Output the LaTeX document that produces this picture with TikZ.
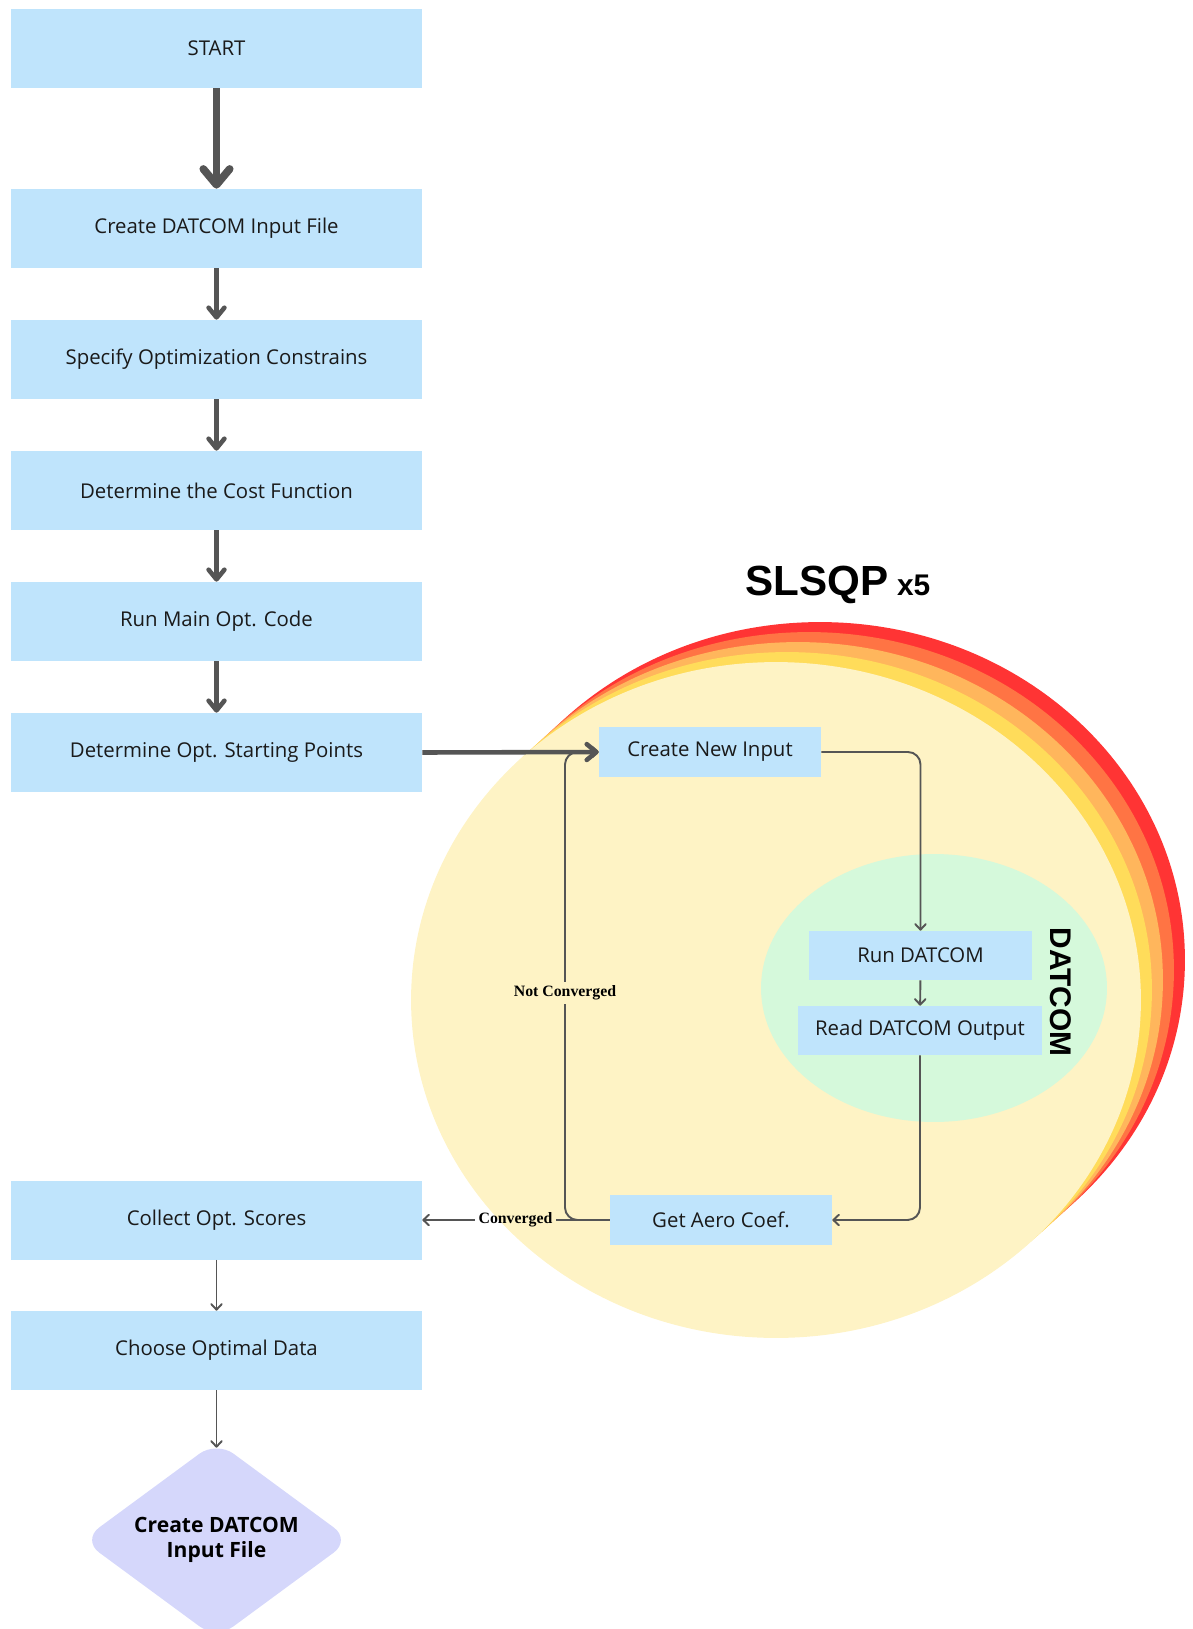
\documentclass[tikz,border=0pt]{standalone}
\usepackage{fontspec}
\setmainfont{Open Sans}
\newfontfamily\headfont{Liberation Sans}
\newfontfamily\lblfont{Liberation Serif}
\usetikzlibrary{arrows.meta,shapes.geometric}
\definecolor{boxblue}{HTML}{BFE4FC}
\definecolor{endlilac}{HTML}{D5D7FB}
\definecolor{arrgray}{HTML}{555555}
\definecolor{txtgray}{HTML}{1A1A1A}
\definecolor{ringred}{HTML}{FF3434}
\definecolor{ringorange}{HTML}{FF7444}
\definecolor{ringamber}{HTML}{FFB65C}
\definecolor{ringyellow}{HTML}{FFDC5A}
\definecolor{slsqpfill}{HTML}{FEF3C5}
\definecolor{datfill}{HTML}{D5F9DB}

\begin{document}
\begin{tikzpicture}[x=0.02cm,y=-0.02cm,
	box/.style={fill=boxblue, text=txtgray, font=\fontsize{11.6}{14}\selectfont, inner sep=0pt},
	leftbox/.style={box, minimum width=8.22cm, minimum height=1.58cm},
	bigarr/.style={draw=arrgray, line width=4.4pt, -{Straight Barb[length=9pt,width=15pt,round]}},
	medarr/.style={draw=arrgray, line width=2.6pt, -{Straight Barb[length=5.5pt,width=9pt,round]}},
	thinln/.style={draw=arrgray, line width=1.1pt},
	thinarr/.style={thinln, -{Straight Barb[length=3.2pt,width=6pt,round]}},
	lbl/.style={font=\lblfont\bfseries\fontsize{9}{11}\selectfont, text=black, inner sep=2pt}]
		\useasboundingbox (0,0) rectangle (1193,1629);
		\clip (0,0) rectangle (1193,1629);
		\fill[ringred] (820,960) ellipse [x radius=7.3cm, y radius=6.76cm];
		\fill[ringorange] (809,970) ellipse [x radius=7.3cm, y radius=6.76cm];
		\fill[ringamber] (798,980) ellipse [x radius=7.3cm, y radius=6.76cm];
		\fill[ringyellow] (787,990) ellipse [x radius=7.3cm, y radius=6.76cm];
		\fill[slsqpfill] (776,1000) ellipse [x radius=7.3cm, y radius=6.76cm];
		\fill[datfill] (934,988) ellipse [x radius=3.46cm, y radius=2.68cm];
		\node[anchor=base west, inner sep=0pt, font=\headfont\bfseries] (title) at (745,595) {{\fontsize{24}{28}\selectfont SLSQP}\hspace{5pt}{\fontsize{17}{20}\selectfont x5}};
		\node[rotate=-90, font=\headfont\bfseries\fontsize{17}{20}\selectfont] (dattitle) at (1061,992) {DATCOM};
		\node[leftbox] (start) at (216.5,48.5) {START};
		\node[leftbox] (mkinput) at (216.5,228.5) {Create DATCOM Input File};
		\node[leftbox] (constr) at (216.5,359.5) {Specify Optimization Constrains};
		\node[leftbox] (costfn) at (216.5,490.5) {Determine the Cost Function};
		\node[leftbox] (mainopt) at (216.5,621.5) {Run Main Opt. Code};
		\node[leftbox] (startpts) at (216.5,752.5) {Determine Opt. Starting Points};
		\node[leftbox] (collect) at (216.5,1220) {Collect Opt. Scores};
		\node[leftbox] (choose) at (216.5,1350.5) {Choose Optimal Data};
		\node[diamond, aspect=1.36, minimum width=5.38cm, minimum height=3.96cm, fill=endlilac, rounded corners=12pt, align=center, text=black, font=\bfseries\fontsize{12}{14.5}\selectfont] (final) at (216.5,1540) {Create DATCOM\\Input File};
		\node[box, minimum width=4.44cm, minimum height=1cm] (newinput) at (710,752) {Create New Input};
		\node[box, minimum width=4.46cm, minimum height=0.98cm] (rundatcom) at (920.5,955.5) {Run DATCOM};
		\node[box, minimum width=4.88cm, minimum height=0.98cm] (readout) at (920,1030.5) {Read DATCOM Output};
		\node[box, minimum width=4.44cm, minimum height=1cm] (aerocoef) at (721,1220) {Get Aero Coef.};
		\node[lbl] (conv) at (515.5,1220) {Converged};
		\node[lbl] (notconv) at (565,993) {Not Converged};
		\draw[bigarr] (start) -- (mkinput);
		\draw[medarr] (mkinput) -- (constr);
		\draw[medarr] (constr) -- (costfn);
		\draw[medarr] (costfn) -- (mainopt);
		\draw[medarr] (mainopt) -- (startpts);
		\draw[thinarr, rounded corners=0.25cm] (newinput.east) -| (rundatcom.north);
		\draw[thinarr] (rundatcom) -- (readout);
		\draw[thinarr, rounded corners=0.25cm] (readout.south) |- (aerocoef.east);
		\draw[thinln] (aerocoef.west) -- (conv.east);
		\draw[thinarr] (conv.west) -- (collect.east);
		\draw[thinln, rounded corners=0.25cm] (aerocoef.west) -| (notconv.south);
		\draw[thinarr, rounded corners=0.25cm] (notconv.north) |- (newinput.west);
		\draw[medarr] (startpts.east) -- (newinput.west);
		\draw[thinarr] (collect) -- (choose);
		\draw[thinarr, shorten >=-4pt] (choose.south) -- (final.north);
\end{tikzpicture}
\end{document}
